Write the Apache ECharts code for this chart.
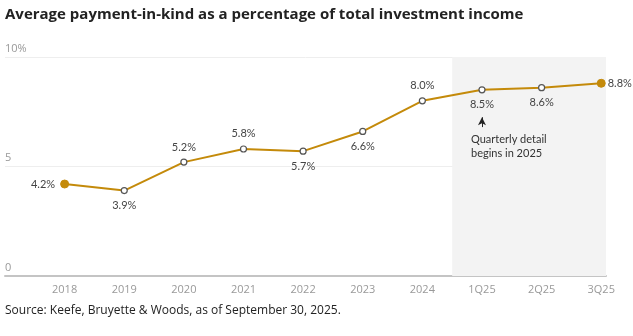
<!DOCTYPE html>
<html>
<head>
<meta charset="utf-8">
<style>
  html, body { margin: 0; padding: 0; background: #fff; }
  #chart { width: 633px; height: 336px; }
</style>
<script src="https://cdn.jsdelivr.net/npm/echarts@6/dist/echarts.min.js"></script>
</head>
<body>
<div id="chart"></div>
<script>
// Periods on the x axis (annual through 2024, then quarterly)
const periods = ['2018', '2019', '2020', '2021', '2022', '2023', '2024', '1Q25', '2Q25', '3Q25'];
// Average PIK share of total investment income, %
const pikShare = [4.2, 3.9, 5.2, 5.8, 5.7, 6.6, 8.0, 8.5, 8.6, 8.8];
// Where each value label sits relative to its point
const labelSide = ['left', 'bottom', 'top', 'top', 'bottom', 'bottom', 'top', 'bottom', 'bottom', 'right'];
const yTicks = [0, 5, 10];

const gold = '#C48A0A';
const labelFont = 'Lato, "Open Sans", sans-serif';

const points = pikShare.map((v, i) => {
  const endpoint = i === 0 || i === pikShare.length - 1;
  const side = labelSide[i];
  return {
    value: [i, v],
    symbol: 'circle',
    symbolSize: endpoint ? 8 : 6,
    itemStyle: endpoint
      ? { color: gold, borderColor: gold, borderWidth: 1 }
      : { color: '#fff', borderColor: '#555', borderWidth: 1.2 },
    label: {
      show: true,
      position: side,
      distance: side === 'right' ? 2 : (side === 'left' ? 5 : 6),
      formatter: v.toFixed(1) + '%',
      color: '#444',
      fontSize: 11,
      fontFamily: labelFont
    }
  };
});

const chart = echarts.init(document.getElementById('chart'));
chart.setOption({
  animation: false,
  title: [
    {
      text: 'Average payment-in-kind as a percentage of total investment income',
      left: 5, top: 7, padding: 0,
      textStyle: { fontSize: 15, fontWeight: 'bold', color: '#222', fontFamily: '"Open Sans", sans-serif' }
    },
    {
      text: 'Source: Keefe, Bruyette & Woods, as of September 30, 2025.',
      left: 5, top: 305, padding: 0,
      textStyle: { fontSize: 12, fontWeight: 'normal', color: '#222', fontFamily: '"Open Sans", sans-serif' }
    }
  ],
  grid: { left: 5, right: 27, top: 57, bottom: 60 },
  xAxis: {
    type: 'value',
    min: -1,
    max: 9.08,
    interval: 1,
    splitLine: { show: false },
    axisTick: { show: false },
    axisLine: { show: true, lineStyle: { color: '#c4c4c4', width: 2 } },
    axisLabel: {
      margin: 8,
      color: '#999',
      fontSize: 11,
      fontFamily: '"Open Sans", sans-serif',
      showMinLabel: false,
      showMaxLabel: false,
      formatter: v => (Number.isInteger(v) && v >= 0 && v < periods.length) ? periods[v] : ''
    }
  },
  yAxis: {
    type: 'value',
    min: 0,
    max: 10,
    interval: 5,
    axisLine: { show: false },
    axisTick: { show: false },
    splitLine: { lineStyle: { color: '#eeeeee', width: 1 } },
    axisLabel: {
      inside: true,
      margin: 0,
      verticalAlign: 'bottom',
      padding: [0, 0, 3, 0],
      color: '#999',
      fontSize: 11,
      fontFamily: '"Open Sans", sans-serif',
      formatter: v => yTicks.indexOf(v) === yTicks.length - 1 ? v + '%' : String(v)
    }
  },
  series: [
    {
      type: 'line',
      data: points,
      lineStyle: { color: gold, width: 2 },
      z: 3,
      markArea: {
        silent: true,
        itemStyle: { color: '#f3f3f3' },
        data: [[{ coord: [6.5, 10] }, { coord: [9.08, 0] }]]
      },
      markLine: {
        silent: true,
        symbol: ['none', 'arrow'],
        symbolSize: [6, 8],
        label: { show: false },
        lineStyle: { color: '#222', width: 1, type: 'solid' },
        data: [[{ coord: [7, 6.8] }, { coord: [7, 7.25] }]]
      },
      markPoint: {
        silent: true,
        symbol: 'circle',
        symbolSize: 0,
        data: [{
          coord: [7, 5.9],
          label: {
            show: true,
            position: 'inside',
            offset: [-11, 0],
            align: 'left',
            verticalAlign: 'middle',
            formatter: 'Quarterly detail\nbegins in 2025',
            lineHeight: 14,
            color: '#333',
            fontSize: 11,
            fontFamily: labelFont
          }
        }]
      }
    }
  ]
});
</script>
</body>
</html>
